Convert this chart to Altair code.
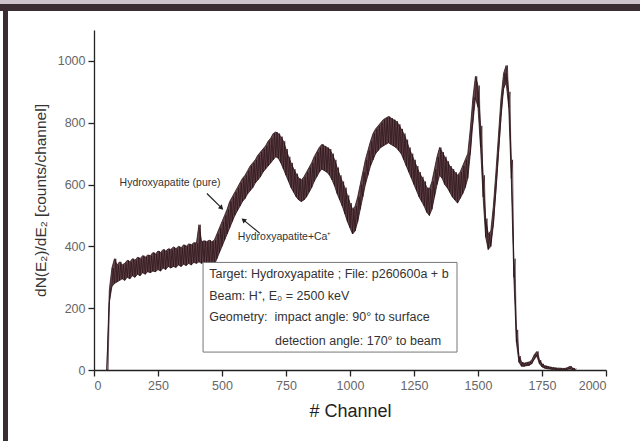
import altair as alt
import pandas as pd

# ---------------- data ----------------
channels = list(range(50, 1890, 10))

lower = [
    0, 220, 270, 280, 285, 290, 295, 290, 300, 295,
    305, 300, 310, 305, 315, 310, 318, 315, 320, 318,
    325, 320, 330, 325, 335, 330, 335, 332, 340, 335,
    342, 338, 345, 340, 348, 345, 350, 345, 350, 345,
    340, 320, 340, 360, 380, 400, 420, 440, 460, 480,
    500, 515, 530, 545, 555, 570, 580, 590, 605, 615,
    625, 640, 650, 660, 670, 680, 690, 685, 670, 650,
    630, 610, 590, 575, 560, 550, 545, 550, 560, 575,
    590, 610, 625, 640, 650, 645, 640, 630, 615, 595,
    570, 550, 530, 505, 480, 460, 440, 450, 480, 520,
    560, 600, 630, 660, 680, 700, 710, 720, 725, 730,
    735, 730, 725, 720, 710, 700, 680, 660, 640, 620,
    600, 580, 560, 545, 530, 510, 500, 520, 560, 600,
    630, 620, 600, 590, 575, 560, 550, 540, 555, 570,
    590, 620, 700, 800, 880, 850, 720, 560, 430, 390,
    400, 470, 580, 700, 820, 910, 930, 850, 620, 300,
    90, 25, 12, 12, 14, 15, 20, 35, 45, 20,
    10, 6, 4, 3, 2, 2, 1, 1, 1, 1,
    2, 3, 1, 0,
]
upper = [
    0, 260, 330, 360, 340, 350, 340, 345, 355, 350,
    360, 355, 365, 360, 370, 365, 372, 370, 380, 375,
    385, 380, 390, 385, 392, 390, 398, 392, 400, 395,
    405, 400, 408, 405, 412, 410, 470, 415, 418, 415,
    420, 415, 420, 440, 460, 480, 500, 520, 545, 560,
    575, 590, 605, 620, 630, 645, 660, 670, 680, 695,
    705, 715, 725, 740, 750, 765, 770, 765, 755, 740,
    715, 690, 670, 650, 635, 620, 615, 625, 640, 655,
    670, 690, 705, 720, 730, 725, 720, 715, 700, 680,
    655, 630, 610, 590, 565, 540, 520, 530, 560, 600,
    640, 680, 710, 740, 765, 780, 790, 800, 810, 815,
    820, 815, 810, 805, 795, 780, 765, 745, 720, 700,
    680, 660, 640, 625, 610, 590, 585, 610, 650, 690,
    720, 705, 690, 675, 660, 650, 640, 630, 640, 660,
    680, 700, 780, 880, 950, 920, 790, 630, 490, 440,
    450, 530, 640, 760, 880, 960, 985, 900, 680, 360,
    130, 45, 25, 22, 24, 26, 32, 50, 60, 32,
    20, 14, 12, 10, 8, 7, 6, 6, 5, 5,
    8, 12, 6, 4,
]

x_ticks = list(range(0, 2001, 125))
y_ticks = list(range(0, 1001, 100))

label_texts = ["Hydroxyapatite (pure)", "Hydroxyapatite+Ca\u207a"]
label_x = [100, 562]
label_y = [606, 429]

arrow_x = [441, 648]
arrow_y = [571, 442]
arrow_x2 = [496, 586]
arrow_y2 = [526, 484]
arrow_angle = [135, 309]

box_lines = [
    "Target: Hydroxyapatite ; File: p260600a + b",
    "Beam: H\u207a, E\u2080 = 2500 keV",
    "Geometry:\u00a0 impact angle: 90\u00b0 to surface",
    "detection angle: 170\u00b0 to beam",
]
box_line_x = [450, 450, 450, 707]
box_line_y = [311, 240, 170, 95]

# ---------------- chart ----------------
df = pd.DataFrame({"channel": channels, "lower": lower, "upper": upper})

# jagged trace alternating between the read lower and upper envelopes
zz_rows = []
for c, lo, hi in zip(channels, lower, upper):
    zz_rows.append({"channel": c, "v": lo})
    zz_rows.append({"channel": c + 5, "v": hi})
zz = pd.DataFrame(zz_rows)
zz["order"] = range(len(zz))

ink = "#47232c"
dark = "#2a1217"
font = "Liberation Sans"

xscale = alt.Scale(domain=[0, 2000], nice=False, zero=False)
yscale = alt.Scale(domain=[0, 1100], nice=False, zero=False)

xaxis = alt.Axis(
    values=x_ticks, format="d",
    labelExpr="datum.value % 250 === 0 ? datum.label : ''",
    grid=False, domainColor="#222", domainWidth=1.3,
    tickColor="#222", tickWidth=1.3,
    tickSize={"condition": {"test": "datum.value % 250 === 0", "value": 6}, "value": 3},
    labelFont=font, labelFontSize=12.5, labelColor="#666", labelPadding=3,
    title="# Channel", titleFont=font, titleFontSize=18, titleFontWeight="normal",
    titleColor="#222", titleX=256, titleY=41, titleAlign="center", titleBaseline="middle",
)
yaxis = alt.Axis(
    values=y_ticks, format="d",
    labelExpr="datum.value % 200 === 0 ? datum.label : ''",
    grid=False, domainColor="#222", domainWidth=1.3,
    tickColor="#222", tickWidth=1.3,
    tickSize={"condition": {"test": "datum.value % 200 === 0", "value": 6}, "value": 3},
    labelFont=font, labelFontSize=12.5, labelColor="#666", labelPadding=3,
    title="dN(E\u2082)/dE\u2082 [counts/channel]", titleFont=font, titleFontSize=15.5,
    titleFontWeight="normal", titleColor="#333", titleAngle=270,
    titleX=-54, titleY=170, titleAlign="center", titleBaseline="middle",
)

band = alt.Chart(df).mark_area(color=ink, opacity=0.85).encode(
    x=alt.X("channel:Q", scale=xscale, axis=xaxis),
    y=alt.Y("lower:Q", scale=yscale, axis=yaxis),
    y2="upper:Q",
)
jag = alt.Chart(zz).mark_line(color=dark, strokeWidth=0.7).encode(
    x=alt.X("channel:Q", scale=xscale), y=alt.Y("v:Q", scale=yscale),
    order="order:Q")
edge_hi = alt.Chart(df).mark_line(color=dark, strokeWidth=0.8).encode(
    x=alt.X("channel:Q", scale=xscale), y=alt.Y("upper:Q", scale=yscale))
edge_lo = alt.Chart(df).mark_line(color=dark, strokeWidth=0.8).encode(
    x=alt.X("channel:Q", scale=xscale), y=alt.Y("lower:Q", scale=yscale))

lab_df = pd.DataFrame({"x": label_x, "y": label_y, "t": label_texts})
labels = alt.Chart(lab_df).mark_text(
    align="left", baseline="middle", font=font, fontSize=10.5, color="#333"
).encode(x=alt.X("x:Q", scale=xscale), y=alt.Y("y:Q", scale=yscale), text="t:N")

arr_df = pd.DataFrame({"x": arrow_x, "y": arrow_y, "x2": arrow_x2, "y2": arrow_y2,
                       "a": arrow_angle})
arrows = alt.Chart(arr_df).mark_rule(color="#222", strokeWidth=1.2).encode(
    x=alt.X("x:Q", scale=xscale), y=alt.Y("y:Q", scale=yscale), x2="x2:Q", y2="y2:Q")
heads = alt.Chart(arr_df).mark_point(shape="triangle", filled=True, size=30,
                                     color="#222", opacity=1).encode(
    x=alt.X("x2:Q", scale=xscale), y=alt.Y("y2:Q", scale=yscale),
    angle=alt.Angle("a:Q", scale=None))

box = alt.Chart(pd.DataFrame({"x": [426], "x2": [1418], "y": [58], "y2": [348]})).mark_rect(
    fill="white", stroke="#777", strokeWidth=1).encode(
    x=alt.X("x:Q", scale=xscale), x2="x2:Q", y=alt.Y("y:Q", scale=yscale), y2="y2:Q")

box_df = pd.DataFrame({"x": box_line_x, "y": box_line_y, "t": box_lines})
box_text = alt.Chart(box_df).mark_text(
    align="left", baseline="middle", font=font, fontSize=12.5, color="#333"
).encode(x=alt.X("x:Q", scale=xscale), y=alt.Y("y:Q", scale=yscale), text="t:N")

one = pd.DataFrame({"k": [0]})
frame_top_light = alt.Chart(one).mark_rect(color="#cdc3c8").encode(
    x=alt.value(-94), x2=alt.value(546), y=alt.value(-30), y2=alt.value(-26))
frame_top = alt.Chart(one).mark_rect(color="#3a2c31").encode(
    x=alt.value(-94), x2=alt.value(546), y=alt.value(-26), y2=alt.value(-19))
frame_left = alt.Chart(one).mark_rect(color="#3a2c31").encode(
    x=alt.value(-91), x2=alt.value(-86), y=alt.value(-26), y2=alt.value(411))

chart = alt.layer(
    frame_top_light, frame_top, frame_left,
    band, jag, edge_hi, edge_lo, box, box_text, arrows, heads, labels,
).properties(
    width=512, height=340,
    autosize=alt.AutoSizeParams(type="none"),
    padding={"left": 94, "top": 30, "right": 34, "bottom": 71},
    background="white",
).configure_view(stroke=None)

chart.save("out.html", embed_options={"renderer": "svg", "actions": False})
